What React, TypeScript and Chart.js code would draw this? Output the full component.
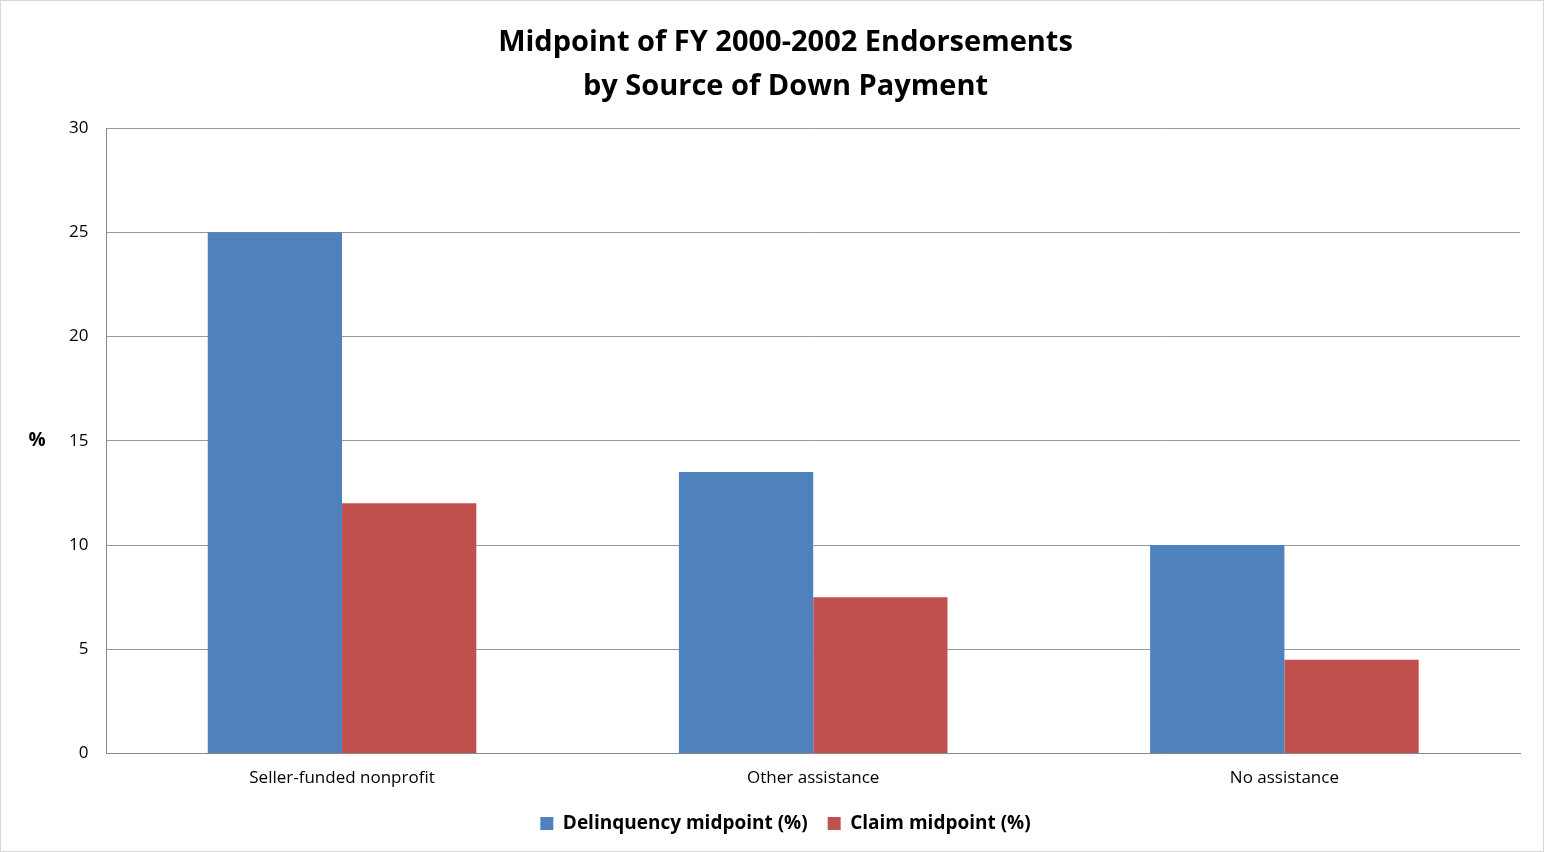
import React, { useEffect, useRef } from "react";
import { Chart, registerables } from "chart.js";
Chart.register(...registerables);

const categories = ["Seller-funded nonprofit", "Other assistance", "No assistance"];
const delinquency = [25, 13.5, 10];
const claim = [12, 7.5, 4.5];
const seriesLabels = ["Delinquency midpoint (%)", "Claim midpoint (%)"];
const titleLines = ["Midpoint of FY 2000-2002 Endorsements", "by Source of Down Payment"];

const FONT = "'Open Sans', 'Liberation Sans', sans-serif";

export default function App() {
  const ref = useRef<HTMLCanvasElement>(null);
  useEffect(() => {
    const pctPlugin = {
      id: "pct",
      afterDraw(chart: any) {
        const { ctx, chartArea } = chart;
        ctx.save();
        ctx.font = `bold 19px ${FONT}`;
        ctx.fillStyle = "#000";
        ctx.textAlign = "center";
        ctx.textBaseline = "middle";
        ctx.fillText("%", 36, chart.scales.y.getPixelForValue(15));
        ctx.restore();
      },
    };
    const chart = new Chart(ref.current!, {
      type: "bar",
      data: {
        labels: categories,
        datasets: [
          { label: seriesLabels[0], data: delinquency, backgroundColor: "#4f81bd" },
          { label: seriesLabels[1], data: claim, backgroundColor: "#c0504d" },
        ],
      },
      options: {
        animation: false,
        responsive: false,
        devicePixelRatio: 1,
        layout: { padding: { left: 50, right: 23, top: 10, bottom: 8 } },
        datasets: { bar: { categoryPercentage: 0.57, barPercentage: 1 } },
        plugins: {
          title: {
            display: true,
            text: titleLines,
            color: "#000",
            font: { family: FONT, size: 29, weight: "bold", lineHeight: 1.5 },
            padding: { top: 10, bottom: 20 },
          },
          legend: {
            position: "bottom",
            labels: {
              color: "#000",
              font: { family: FONT, size: 19, weight: "bold" },
              boxWidth: 13,
              boxHeight: 13,
              padding: 20,
            },
          },
          tooltip: { enabled: false },
        },
        scales: {
          x: {
            grid: { display: false, drawTicks: true },
            border: { color: "#888" },
            ticks: { color: "#000", font: { family: FONT, size: 17 }, padding: 6 },
          },
          y: {
            min: 0,
            max: 30,
            ticks: { stepSize: 5, color: "#000", font: { family: FONT, size: 17 }, padding: 18 },
            grid: { color: "#999", drawTicks: false },
            border: { color: "#888" },
          },
        },
      },
      plugins: [pctPlugin],
    });
    return () => chart.destroy();
  }, []);
  return (
    <div style={{ position: "absolute", left: 0, top: 0, width: 1544, height: 852, background: "#fff", boxSizing: "border-box", border: "1px solid #d9d9d9" }}>
      <canvas ref={ref} width={1542} height={850} />
    </div>
  );
}
